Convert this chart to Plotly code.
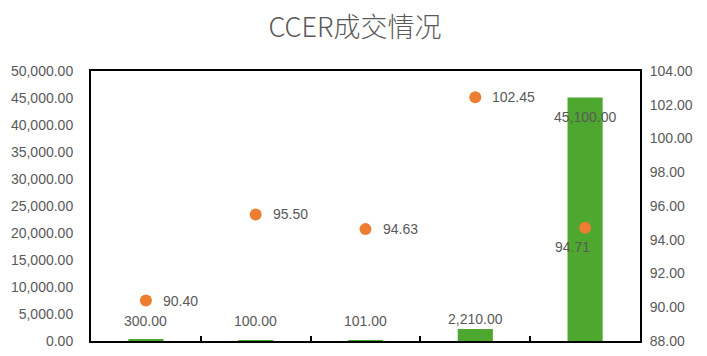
import plotly.graph_objects as go

categories = ["A", "B", "C", "D", "E"]
volumes = [300.00, 100.00, 101.00, 2210.00, 45100.00]
prices = [90.40, 95.50, 94.63, 102.45, 94.71]
left_ticks = [0, 5000, 10000, 15000, 20000, 25000, 30000, 35000, 40000, 45000, 50000]
right_ticks = [88, 90, 92, 94, 96, 98, 100, 102, 104]

# label placement styles (pixels)
bar_label_anchor = ["bottom", "bottom", "bottom", "bottom", "top"]
bar_label_shift = [8, 9, 9, 0, -10]
price_label_anchor = ["left", "left", "left", "left", "center"]
price_label_xshift = [15, 15, 15, 15, -13]
price_label_yshift = [0, 0, 0, 0, -19]

GRAY = "#595959"
FONT = "Liberation Sans, Arial, sans-serif"

fig = go.Figure()
fig.add_trace(go.Bar(
    x=categories, y=volumes, marker=dict(color="#4EA72E", line=dict(width=0)),
    yaxis="y", showlegend=False, hoverinfo="skip",
))
fig.add_trace(go.Scatter(
    x=categories, y=prices, yaxis="y2", mode="markers",
    marker=dict(color="#ED7D31", size=12),
    showlegend=False, cliponaxis=False,
))

for i, (c, v) in enumerate(zip(categories, volumes)):
    fig.add_annotation(
        x=c, y=v, xref="x", yref="y", text=f"{v:,.2f}", showarrow=False,
        yanchor=bar_label_anchor[i], yshift=bar_label_shift[i],
        font=dict(family=FONT, size=14, color=GRAY),
    )
for i, (c, p) in enumerate(zip(categories, prices)):
    fig.add_annotation(
        x=c, y=p, xref="x", yref="y2", text=f"{p:.2f}", showarrow=False,
        xanchor=price_label_anchor[i], yanchor="middle",
        xshift=price_label_xshift[i], yshift=price_label_yshift[i],
        font=dict(family=FONT, size=14, color=GRAY),
    )

fig.update_layout(
    width=707, height=356,
    margin=dict(l=91, r=67, t=71, b=15, autoexpand=False),
    paper_bgcolor="white", plot_bgcolor="white",
    bargap=0.68,
    title=dict(text="CCER成交情况", x=0.502, xanchor="center", y=0.922, yanchor="middle",
               font=dict(family="Noto Sans CJK SC, sans-serif", size=27, color=GRAY, weight=300)),
    xaxis=dict(type="category", range=[-0.5, 4.5], showticklabels=False, showline=True,
               linecolor="black", linewidth=2, mirror=True, ticks="inside",
               tickson="boundaries", ticklen=5, tickwidth=1.5, tickcolor="black",
               showgrid=False, zeroline=False, automargin=False),
    yaxis=dict(range=[0, 50000], tickvals=left_ticks,
               ticktext=[f"{t:,.2f}" for t in left_ticks], showgrid=False, zeroline=False,
               showline=True, linecolor="black", linewidth=2, ticks="", automargin=False,
               tickfont=dict(family=FONT, size=14, color=GRAY), ticklabelstandoff=13),
    yaxis2=dict(range=[88, 104], tickvals=right_ticks,
                ticktext=[f"{t:.2f}" for t in right_ticks], overlaying="y", side="right",
                showgrid=False, zeroline=False, showline=True, linecolor="black", linewidth=2,
                ticks="", automargin=False,
                tickfont=dict(family=FONT, size=14, color=GRAY), ticklabelstandoff=5),
)

fig.write_html("out.html")
